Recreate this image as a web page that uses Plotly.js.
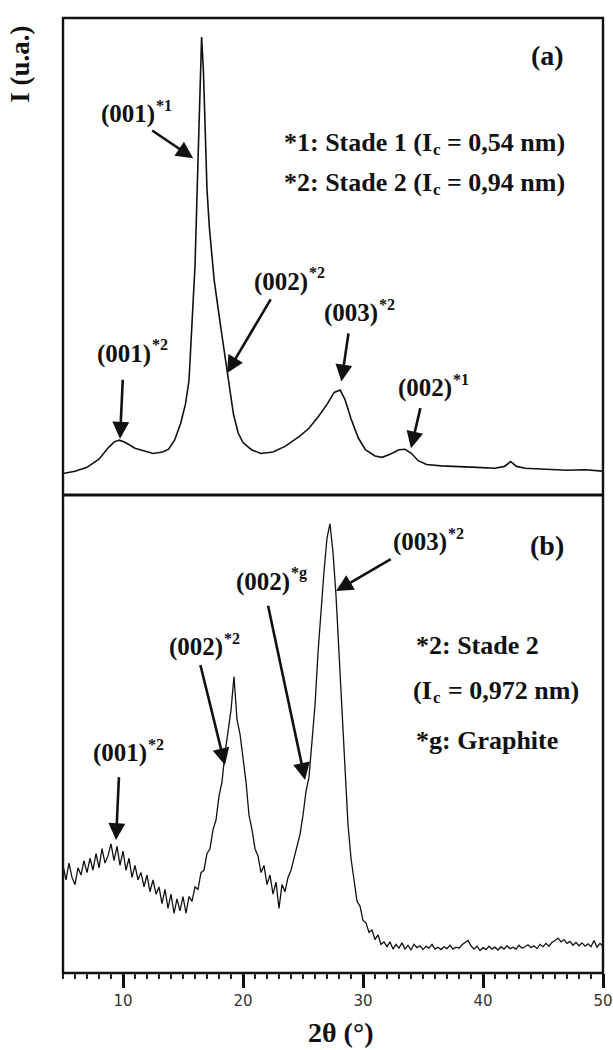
<!DOCTYPE html>
<html>
<head>
<meta charset="utf-8">
<script src="https://cdn.plot.ly/plotly-3.0.1.min.js"></script>
<style>html,body{margin:0;padding:0;background:#fff;}#chart{width:613px;height:1050px;}</style>
</head>
<body>
<div id="chart"></div>
<script>
// ---- Panel (a): 2θ (°) and intensity (a.u., % of panel height)
const theta_a = [5.0,6.0,7.0,8.0,8.8,9.3,9.7,10.2,11.0,12.0,12.5,13.3,13.8,14.3,14.8,15.2,15.5,15.75,16.0,16.25,16.4,16.55,16.7,16.85,17.0,17.2,17.6,18.1,18.7,19.2,19.6,20.0,20.7,21.5,22.5,23.5,24.7,25.5,26.3,27.0,27.6,28.1,28.5,29.0,29.6,30.2,31.0,31.6,32.3,33.0,33.5,34.0,34.6,35.3,36.5,38.0,39.5,41.0,41.8,42.3,42.8,43.5,45.0,47.0,48.5,50.0];
const int_a   = [4.5,5.0,5.8,7.5,10.0,11.2,11.5,11.0,9.8,9.0,8.7,9.0,9.6,11.5,15,19,24,36,48,70,86,96,89,75,64,56,45,36,26,17,13,11,9.5,8.7,9.0,10.2,12.3,14,16.5,19,21.5,22,20,16,12,9.5,8.2,7.9,8.6,9.5,9.6,8.8,7.2,6.4,6.1,6.0,5.8,5.6,6.0,7.0,6.0,5.6,5.4,5.2,5.3,5.0];

// ---- Panel (b): 2θ grid start / step and intensity (a.u., % of panel height)
const theta_b_start = 5.0;
const theta_b_step = 0.25;
const int_b = [
  22.5,19.5,23,20,18.5,22,20.5,23.5,
  21,24,21.5,25,22,26,23,24.5,
  27,23.5,26.5,22.5,25.5,21.5,24,20,
  22.5,19.5,21,18,20.5,17,19.5,16.5,
  18,14.5,17.5,13.5,16.5,12.5,15.5,13,
  16,12.5,16,15,18,17.5,21,21.5,
  25,26,30,32,37,40,46,50,
  55,62,53,50,45,40,33,30,
  26,24.5,21,22.5,18.5,20.5,16.5,19,
  13.5,18.5,17,20,21.5,24,26,29,
  33,38,41,48,56,67,76,84,
  91,94,88,79,67,54,42,31,
  24,20,15,14,11,10.5,8.5,9,
  7,8,6,6.5,5.5,6.5,5,6,
  5.2,6.3,5,5.8,4.8,6,5.3,5.7,
  4.9,5.6,5.2,6,5,5.4,4.9,5.5,
  5.1,5.8,5,5.4,5.2,5.9,6.4,6.8,
  5.7,5,5.6,4.7,5.3,4.9,5.6,5,
  5.4,4.8,5.5,5,5.7,5.1,5.4,5,
  5.8,5.2,5.5,5.9,5.3,5.7,5.1,6,
  5.5,6.2,5.6,6.4,6.8,7.3,6.5,7,
  6.2,6.6,5.8,6.4,5.7,6.3,5.6,6.1,
  5.5,6.8,5.4,6.2,5.6
];

const tick_vals = [10,20,30,40,50];
const tick_text = ['10','20','30','40','50'];

const serif = '"Liberation Serif", "Times New Roman", serif';
const LBL = 25, LEG = 26, SUP = 16, SUB = 17;
const lblFont = {family: serif, size: LBL, color: '#111'};
const legFont = {family: serif, size: LEG, color: '#111'};
const supFont = {family: serif, size: SUP, color: '#111'};
const subFont = {family: serif, size: SUB, color: '#111'};

const traces = [
  {x: theta_a, y: int_a, xaxis: 'x2', yaxis: 'y2', type: 'scatter', mode: 'lines',
   line: {color: '#111', width: 1.6}, hoverinfo: 'skip'},
  {x0: theta_b_start, dx: theta_b_step, y: int_b, xaxis: 'x', yaxis: 'y', type: 'scatter', mode: 'lines',
   line: {color: '#111', width: 1.3}, hoverinfo: 'skip'}
];

function txt(x, y, text, ref, font, opts) {
  return Object.assign({x: x, y: y, xref: ref[0], yref: ref[1], text: '<b>' + text + '</b>',
    showarrow: false, font: font, xanchor: 'center', yanchor: 'middle',
    borderpad: 0, borderwidth: 0}, opts || {});
}
// peak label "(hkl)" + superscript, with its arrow: (x, y) is the arrow tip, (ax, ay) the label centre offset in px
const HKL_HALF = 2.166 * LBL / 2;   // half width of "(00n)" in Times bold
function peak(x, y, ax, ay, hkl, sup, ref, gap) {
  return [
    {x: x, y: y, xref: ref[0], yref: ref[1], text: '<b>' + hkl + '</b>', font: lblFont,
     borderpad: 0, borderwidth: 0,
     showarrow: true, ax: ax, ay: ay, arrowhead: 2, arrowsize: 1.3, arrowwidth: 2.6,
     arrowcolor: '#111', standoff: 0, startstandoff: (gap || 0) + 2},
    txt(x, y, sup, ref, supFont, {xanchor: 'left', xshift: ax + HKL_HALF + 1, yshift: -ay + 9})
  ];
}
// legend-like line "prefix I" + subscript "c" + " = suffix"
function icLine(x, y, prefixText, prefixEm, suffix, ref) {
  const w = prefixEm * LEG;
  return [
    txt(x, y, prefixText, ref, legFont, {xanchor: 'left'}),
    txt(x, y, 'c', ref, subFont, {xanchor: 'left', xshift: w + 1, yshift: -7}),
    txt(x, y, suffix, ref, legFont, {xanchor: 'left', xshift: w + 0.444 * SUB + 8})
  ];
}
const A = ['x2', 'y2'], B = ['x', 'y'];
const bigFont = {family: serif, size: 28, color: '#111'};

const annotations = [].concat(
  // panel (a)
  [txt(45.4, 92.2, '(a)', A, bigFont)],
  peak(15.85, 70.6, -65, -44, '(001)', '*1', A, 2),
  icLine(23.4, 74.0, '*1: Stade 1 (I', 5.694, '= 0,54 nm)', A),
  icLine(23.4, 65.6, '*2: Stade 2 (I', 5.694, '= 0,94 nm)', A),
  peak(18.67, 25.6, 54, -91, '(002)', '*2', A, 2),
  peak(9.75, 11.8, 4, -85, '(001)', '*2', A, 10),
  peak(28.2, 23.8, 10, -68, '(003)', '*2', A, 4),
  peak(34.0, 9.8, 14, -60, '(002)', '*1', A, 4),
  // panel (b)
  [txt(45.3, 89.5, '(b)', B, bigFont)],
  peak(27.75, 79.9, 84, -49, '(003)', '*2', B, 4),
  peak(25.17, 40.4, -42, -198, '(002)', '*g', B, 8),
  peak(18.5, 43.5, -29, -118, '(002)', '*2', B, 2),
  peak(9.42, 27.8, 4, -87, '(001)', '*2', B, 8),
  [txt(34.4, 68.6, '*2: Stade 2', B, legFont, {xanchor: 'left'})],
  icLine(34.2, 59.2, '(I', 0.722, '= 0,972 nm)', B),
  [txt(34.4, 48.7, '*g: Graphite', B, legFont, {xanchor: 'left'})],
  // axis titles
  [{x: 0.513, y: -0.062, xref: 'paper', yref: 'paper', text: '<b>2θ (°)</b>', showarrow: false,
    font: {family: serif, size: 28, color: '#111'}, xanchor: 'center', yanchor: 'middle'},
   {x: -0.08, y: 0.952, xref: 'paper', yref: 'paper', text: '<b>I (u.a.)</b>', showarrow: false, textangle: -90,
    font: {family: serif, size: 27, color: '#111'}, xanchor: 'center', yanchor: 'middle'}]
);

const split = 0.5005;
const layout = {
  width: 613, height: 1050,
  margin: {l: 63, r: 10, t: 18, b: 77},
  paper_bgcolor: '#fff', plot_bgcolor: '#fff',
  showlegend: false,
  xaxis: {range: [5, 50], anchor: 'y', tickvals: tick_vals, ticktext: tick_text, ticks: 'outside',
    ticklen: 14, tickwidth: 3, tickcolor: '#111', showgrid: false, zeroline: false,
    showline: false, ticklabeloverflow: 'allow',
    tickfont: {family: '"DejaVu Sans", sans-serif', size: 15, color: '#333'},
    minor: {dtick: 1, ticks: 'outside', ticklen: 5, tickwidth: 1.2, tickcolor: '#222', showgrid: false}},
  xaxis2: {range: [5, 50], anchor: 'y2', matches: 'x', showticklabels: false, ticks: '',
    showgrid: false, zeroline: false, showline: false},
  yaxis: {domain: [0, split], range: [0, 100], showticklabels: false, ticks: '', showgrid: false,
    zeroline: false, showline: false},
  yaxis2: {domain: [split, 1], range: [0, 100], showticklabels: false, ticks: '', showgrid: false,
    zeroline: false, showline: false},
  shapes: [
    {type: 'rect', xref: 'paper', yref: 'paper', x0: 0, x1: 1, y0: 0, y1: 1,
     line: {color: '#111', width: 2.4}},
    {type: 'line', xref: 'paper', yref: 'paper', x0: 0, x1: 1, y0: split, y1: split,
     line: {color: '#111', width: 3}}
  ],
  annotations: annotations
};

Plotly.newPlot('chart', traces, layout, {staticPlot: true, displayModeBar: false});
</script>
</body>
</html>
